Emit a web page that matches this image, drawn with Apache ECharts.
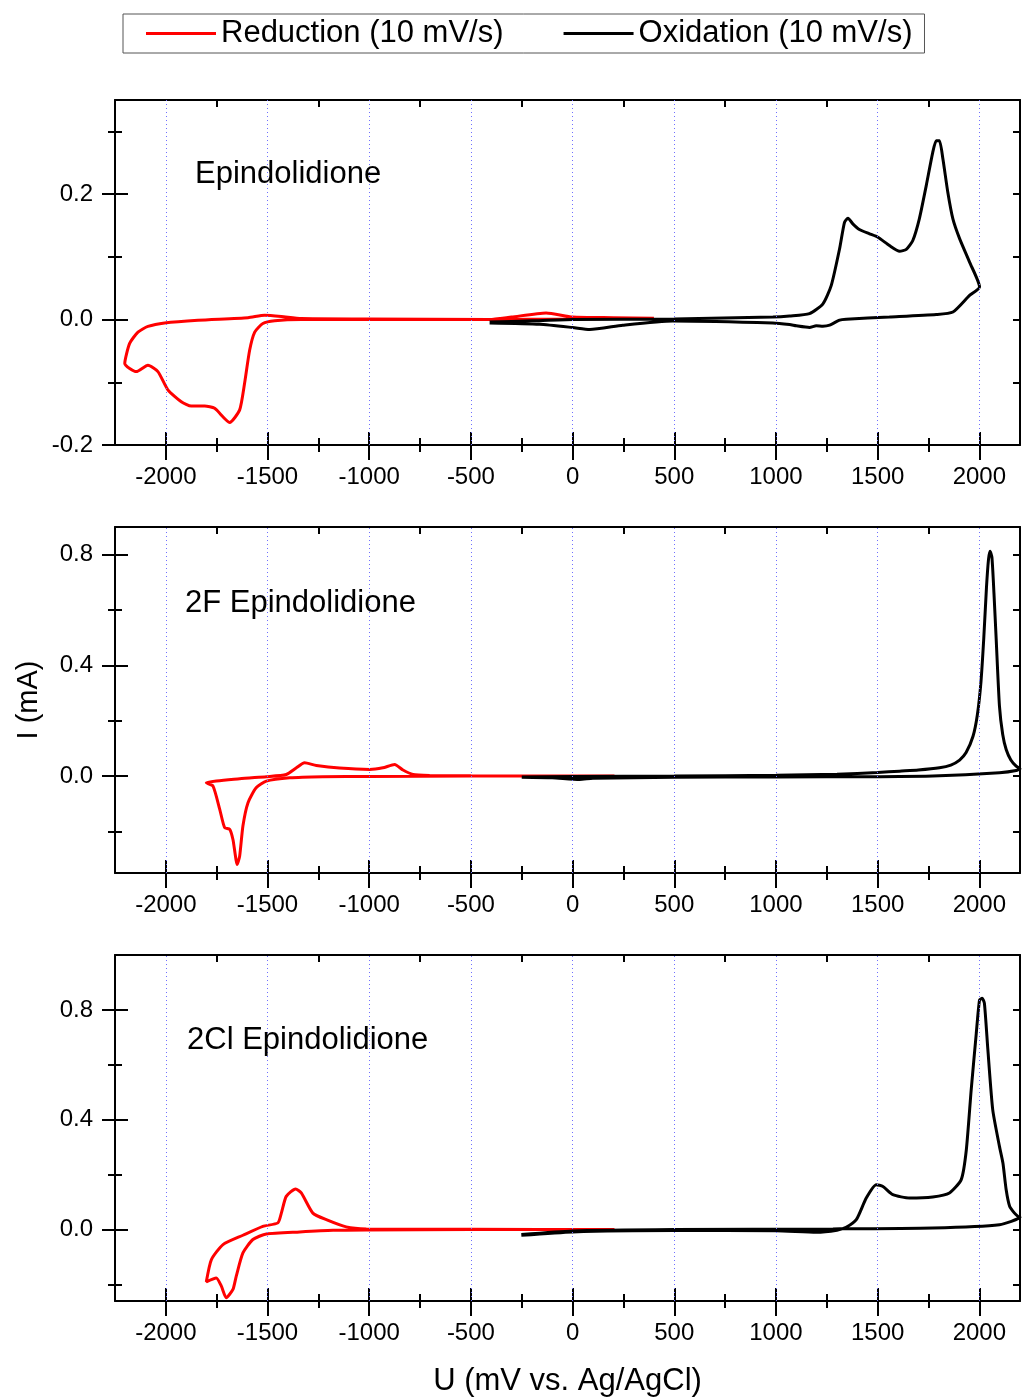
<!DOCTYPE html>
<html>
<head>
<meta charset="utf-8">
<script src="https://cdn.jsdelivr.net/npm/echarts@6/dist/echarts.min.js"></script>
<style>
html,body{margin:0;padding:0;background:#fff;}
#chart{width:1023px;height:1400px;}
</style>
</head>
<body>
<div id="chart"></div>
<script>
// ---------- DATA (U in mV vs Ag/AgCl, I in mA) ----------
const seriesNames = ['Reduction (10 mV/s)', 'Oxidation (10 mV/s)'];
const panelLabels = ['Epindolidione', '2F Epindolidione', '2Cl Epindolidione'];

const xMajorTicks = [-2000, -1500, -1000, -500, 0, 500, 1000, 1500, 2000];
const xMinorTicks = [-1750, -1250, -750, -250, 250, 750, 1250, 1750];
const xGridLines = [-2000, -1500, -1000, -500, 0, 500, 1000, 1500, 2000];

const y1Major = [-0.2, 0.0, 0.2];
const y1Minor = [-0.1, 0.1, 0.3];
const y2Major = [0.0, 0.4, 0.8];
const y2Minor = [-0.2, 0.2, 0.6];
const y3Major = [0.0, 0.4, 0.8];
const y3Minor = [-0.2, 0.2, 0.6];

// Epindolidione
const epiReduction = [
  [400, 0.002], [0, 0.001], [-400, 0.0], [-1000, 0.0], [-1334, 0.0], [-1465, -0.002],
  [-1523, -0.0064], [-1563, -0.02], [-1588, -0.049], [-1613, -0.102], [-1637, -0.144],
  [-1686, -0.164], [-1760, -0.1416], [-1809, -0.138], [-1875, -0.138], [-1924, -0.131],
  [-1990, -0.112], [-2039, -0.083], [-2088, -0.073], [-2145, -0.083], [-2202, -0.07],
  [-2178, -0.038], [-2137, -0.02], [-2088, -0.011], [-2006, -0.0054], [-1842, -0.001],
  [-1596, 0.003], [-1514, 0.007], [-1432, 0.005], [-1334, 0.0015], [-1000, 0.001],
  [-408, 0.0], [-300, 0.004], [-130, 0.0105], [0, 0.004], [200, 0.003], [400, 0.002]
];
const epiOxidation = [
  [-408, -0.004], [-200, -0.002], [0, 0.0], [500, 0.001], [985, 0.004], [1067, 0.0057],
  [1165, 0.0095], [1231, 0.025], [1272, 0.0545], [1313, 0.113], [1337, 0.155], [1354, 0.1616],
  [1378, 0.1526], [1410, 0.1436], [1460, 0.1367], [1501, 0.1313], [1558, 0.118], [1608, 0.109],
  [1641, 0.1118], [1673, 0.126], [1705, 0.1605], [1739, 0.2135], [1771, 0.2665], [1788, 0.285],
  [1804, 0.285], [1821, 0.256], [1845, 0.203], [1870, 0.1605], [1903, 0.129], [1952, 0.0916],
  [2001, 0.052], [1952, 0.0386], [1870, 0.012], [1788, 0.008], [1558, 0.004], [1345, 0.0005],
  [1313, -0.001], [1264, -0.009], [1231, -0.0107], [1198, -0.010], [1165, -0.0127], [1100, -0.010],
  [1067, -0.008], [985, -0.0054], [493, -0.0022], [247, -0.009], [84, -0.016], [0, -0.0127],
  [-162, -0.0075], [-408, -0.0054]
];

// 2F Epindolidione
const fReduction = [
  [206, 0.0], [-500, 0.0], [-1000, -0.001], [-1228, -0.002], [-1391, -0.006], [-1506, -0.018],
  [-1556, -0.042], [-1596, -0.096], [-1621, -0.18], [-1637, -0.289], [-1649, -0.319],
  [-1670, -0.229], [-1686, -0.192], [-1711, -0.186], [-1735, -0.12], [-1768, -0.036],
  [-1801, -0.024], [-1637, -0.0094], [-1506, -0.002], [-1408, 0.006], [-1358, 0.030],
  [-1318, 0.048], [-1260, 0.0386], [-1146, 0.029], [-998, 0.024], [-933, 0.030], [-875, 0.042],
  [-834, 0.022], [-785, 0.006], [-703, 0.0025], [-500, 0.001], [0, 0.0], [206, 0.0]
];
const fOxidation = [
  [-250, -0.003], [0, -0.001], [500, 0.0], [1000, 0.003], [1300, 0.007], [1500, 0.013],
  [1608, 0.018], [1700, 0.022], [1804, 0.030], [1860, 0.040], [1903, 0.058], [1935, 0.085],
  [1969, 0.144], [1990, 0.22], [2008, 0.34], [2022, 0.50], [2035, 0.68], [2045, 0.782],
  [2053, 0.812], [2062, 0.79], [2072, 0.66], [2083, 0.493], [2099, 0.253], [2115, 0.15],
  [2132, 0.096], [2155, 0.058], [2181, 0.036], [2200, 0.027], [2181, 0.02], [2099, 0.012],
  [1771, 0.0], [1498, -0.002], [1000, -0.003], [500, -0.004], [100, -0.008], [34, -0.012],
  [-100, -0.006], [-250, -0.004]
];

// 2Cl Epindolidione
const clReduction = [
  [206, 0.0], [-500, 0.0], [-1014, -0.001], [-1178, -0.0025], [-1342, -0.0085], [-1506, -0.016],
  [-1572, -0.036], [-1621, -0.085], [-1654, -0.17], [-1670, -0.218], [-1703, -0.248],
  [-1727, -0.206], [-1752, -0.176], [-1801, -0.19], [-1776, -0.109], [-1719, -0.0545],
  [-1621, -0.0206], [-1523, 0.012], [-1449, 0.0244], [-1432, 0.06], [-1408, 0.121],
  [-1362, 0.148], [-1334, 0.1335], [-1277, 0.06], [-1211, 0.036], [-1113, 0.0098],
  [-1014, 0.0025], [-500, 0.001], [206, 0.0]
];
const clOxidation = [
  [-252, -0.021], [0, -0.0085], [500, -0.0036], [1000, -0.004], [1198, -0.0098], [1300, -0.002],
  [1345, 0.0084], [1395, 0.036], [1444, 0.115], [1493, 0.1636], [1526, 0.157], [1575, 0.127],
  [1657, 0.115], [1771, 0.119], [1853, 0.1335], [1911, 0.182], [1936, 0.29], [1960, 0.509],
  [1985, 0.715], [2001, 0.836], [2014, 0.8425], [2025, 0.824], [2042, 0.655], [2066, 0.436],
  [2099, 0.303], [2116, 0.2425], [2132, 0.145], [2149, 0.085], [2173, 0.06], [2190, 0.048],
  [2200, 0.045], [2099, 0.018], [1771, 0.006], [1280, 0.0025], [500, 0.0], [0, -0.005],
  [-252, -0.018]
];

// ---------- LAYOUT ----------
const FONT = '"Liberation Sans", Arial, sans-serif';
const panels = [
  {top: 100, height: 345, ymin: -0.2, ymax: 0.35, yMajor: y1Major, yMinor: y1Minor,
   red: epiReduction, black: epiOxidation, label: panelLabels[0], labelLeft: 195, labelTop: 159},
  {top: 527, height: 346, ymin: -0.35, ymax: 0.9, yMajor: y2Major, yMinor: y2Minor,
   red: fReduction, black: fOxidation, label: panelLabels[1], labelLeft: 185, labelTop: 588},
  {top: 955, height: 346, ymin: -0.26, ymax: 1.0, yMajor: y3Major, yMinor: y3Minor,
   red: clReduction, black: clOxidation, label: panelLabels[2], labelLeft: 187, labelTop: 1025}
];

const grids = [], xAxes = [], yAxes = [], series = [], titles = [];
const tickStyle = {color: '#000', width: 2};

panels.forEach((p, i) => {
  grids.push({left: 115, width: 905, top: p.top, height: p.height});
  const xb = xAxes.length;
  const xBase = {gridIndex: i, type: 'value', min: -2250, max: 2200, splitLine: {show: false}};
  const mkX = (extra) => Object.assign({}, xBase, extra);
  xAxes.push(mkX({position: 'bottom',
    axisLine: {show: true, onZero: false, lineStyle: {color: '#000', width: 2}},
    axisTick: {show: true, customValues: xMajorTicks, length: 15, inside: false, lineStyle: tickStyle},
    axisLabel: {show: true, customValues: xMajorTicks, margin: 20, fontSize: 24, color: '#000', fontFamily: FONT,
      formatter: v => String(v)},
    name: i === 2 ? 'U (mV vs. Ag/AgCl)' : '', nameLocation: 'middle', nameGap: 65,
    nameTextStyle: {fontSize: 31, color: '#000', fontFamily: FONT}}));
  xAxes.push(mkX({position: 'bottom', axisLine: {show: false, onZero: false},
    axisTick: {show: true, customValues: xMajorTicks, length: 13, inside: true, lineStyle: tickStyle},
    axisLabel: {show: false}}));
  xAxes.push(mkX({position: 'bottom', axisLine: {show: false, onZero: false},
    axisTick: {show: true, customValues: xMinorTicks, length: 7, inside: false, lineStyle: tickStyle},
    axisLabel: {show: false}}));
  xAxes.push(mkX({position: 'bottom', axisLine: {show: false, onZero: false},
    axisTick: {show: true, customValues: xMinorTicks, length: 7, inside: true, lineStyle: tickStyle},
    axisLabel: {show: false}}));
  xAxes.push(mkX({position: 'top',
    axisLine: {show: true, onZero: false, lineStyle: {color: '#000', width: 2}},
    axisTick: {show: true, customValues: xMinorTicks, length: 7, inside: true, lineStyle: tickStyle},
    axisLabel: {show: false}}));

  const yb = yAxes.length;
  const yBase = {gridIndex: i, type: 'value', min: p.ymin, max: p.ymax, splitLine: {show: false}};
  const mkY = (extra) => Object.assign({}, yBase, extra);
  const yAll = p.yMajor.concat(p.yMinor);
  yAxes.push(mkY({position: 'left',
    axisLine: {show: true, onZero: false, lineStyle: {color: '#000', width: 2}},
    axisTick: {show: true, customValues: p.yMajor, length: 13, inside: false, lineStyle: tickStyle},
    axisLabel: {show: true, customValues: p.yMajor, margin: 22, fontSize: 24, color: '#000', fontFamily: FONT,
      formatter: v => Number(v).toFixed(1)},
    name: i === 1 ? 'I (mA)' : '', nameLocation: 'middle', nameGap: 72, nameRotate: 90,
    nameTextStyle: {fontSize: 29, color: '#000', fontFamily: FONT}}));
  yAxes.push(mkY({position: 'left', axisLine: {show: false, onZero: false},
    axisTick: {show: true, customValues: p.yMajor, length: 13, inside: true, lineStyle: tickStyle},
    axisLabel: {show: false}}));
  yAxes.push(mkY({position: 'left', axisLine: {show: false, onZero: false},
    axisTick: {show: true, customValues: p.yMinor, length: 7, inside: false, lineStyle: tickStyle},
    axisLabel: {show: false}}));
  yAxes.push(mkY({position: 'left', axisLine: {show: false, onZero: false},
    axisTick: {show: true, customValues: p.yMinor, length: 7, inside: true, lineStyle: tickStyle},
    axisLabel: {show: false}}));
  yAxes.push(mkY({position: 'right',
    axisLine: {show: true, onZero: false, lineStyle: {color: '#000', width: 2}},
    axisTick: {show: true, customValues: yAll, length: 7, inside: true, lineStyle: tickStyle},
    axisLabel: {show: false}}));

  // dotted blue grid lines
  series.push({type: 'line', name: 'grid' + i, xAxisIndex: xb, yAxisIndex: yb, data: [], z: 1,
    silent: true, legendHoverLink: false,
    markLine: {silent: true, symbol: ['none', 'none'], label: {show: false}, animation: false,
      lineStyle: {color: '#7070ff', type: [1, 3], width: 1},
      emphasis: {disabled: true},
      data: xGridLines.map(v => ({xAxis: v}))}});
  series.push({type: 'line', name: seriesNames[0], xAxisIndex: xb, yAxisIndex: yb, data: p.red,
    showSymbol: false, symbol: 'none', smooth: 0.2, z: 3,
    lineStyle: {color: '#ff0000', width: 3}, itemStyle: {color: '#ff0000'}});
  series.push({type: 'line', name: seriesNames[1], xAxisIndex: xb, yAxisIndex: yb, data: p.black,
    showSymbol: false, symbol: 'none', smooth: 0.2, z: 4,
    lineStyle: {color: '#000000', width: 3}, itemStyle: {color: '#000000'}});

  titles.push({text: p.label, left: p.labelLeft, top: p.labelTop, padding: 0,
    textStyle: {fontSize: 31, fontWeight: 'normal', color: '#000', fontFamily: FONT}});
});

const chart = echarts.init(document.getElementById('chart'), null, {renderer: 'canvas'});
chart.setOption({
  animation: false,
  backgroundColor: '#fff',
  title: titles,
  legend: {
    data: seriesNames, left: 123, top: 14, orient: 'horizontal',
    padding: [4, 12, 4, 23], itemGap: 60, itemWidth: 70, itemHeight: 3,
    borderColor: '#555', borderWidth: 1, backgroundColor: '#fff',
    icon: 'rect',
    textStyle: {fontSize: 31, color: '#000', fontFamily: FONT}
  },
  grid: grids,
  xAxis: xAxes,
  yAxis: yAxes,
  series: series
});
</script>
</body>
</html>
